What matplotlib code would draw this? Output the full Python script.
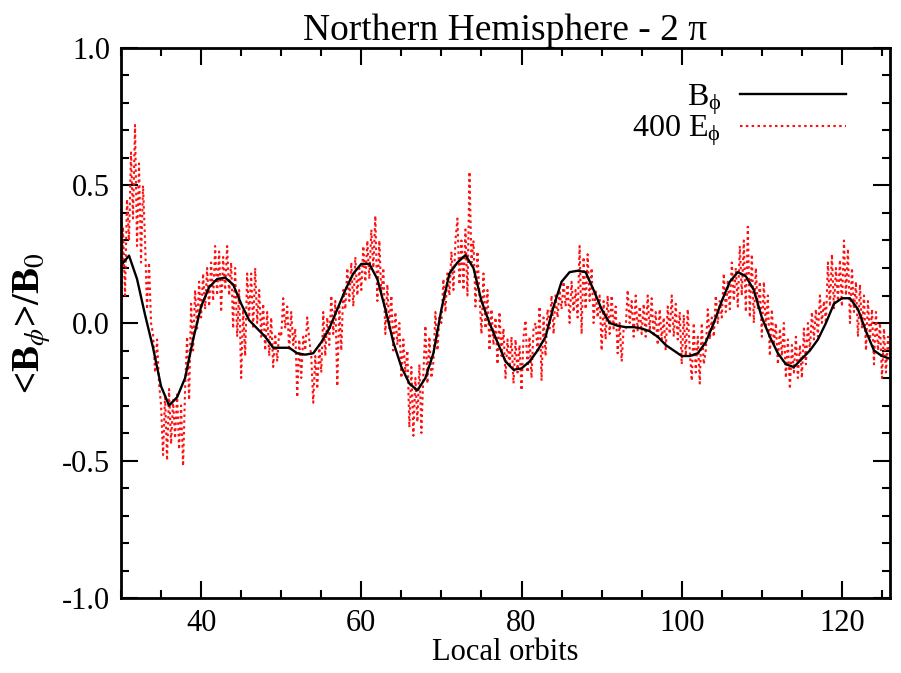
import numpy as np
import matplotlib
matplotlib.use("Agg")
import matplotlib.pyplot as plt
from matplotlib.ticker import MultipleLocator

plt.rcParams['font.family'] = ['Liberation Serif', 'DejaVu Serif']
plt.rcParams['mathtext.fontset'] = 'stix'

# Smoothed azimuthal field <B_phi>/B_0, one value per local orbit (30 .. 126)
orbits_b = np.arange(30, 127, 1)
b_phi = [
    0.21, 0.245, 0.16, 0.03, -0.09, -0.23, -0.30, -0.27, -0.20, -0.06,
    0.06, 0.13, 0.16, 0.165, 0.14, 0.07, 0.01, -0.02, -0.05, -0.09,
    -0.09, -0.09, -0.11, -0.115, -0.11, -0.07, -0.02, 0.05, 0.12, 0.18,
    0.215, 0.215, 0.16, 0.05, -0.07, -0.16, -0.22, -0.245, -0.20, -0.11,
    0.05, 0.18, 0.22, 0.247, 0.20, 0.08, 0.00, -0.07, -0.14, -0.17,
    -0.165, -0.14, -0.10, -0.05, 0.06, 0.15, 0.185, 0.19, 0.185, 0.12,
    0.05, 0.00, -0.01, -0.015, -0.015, -0.02, -0.03, -0.05, -0.08, -0.10,
    -0.12, -0.12, -0.11, -0.07, 0.00, 0.08, 0.15, 0.185, 0.17, 0.12,
    0.02, -0.05, -0.11, -0.15, -0.16, -0.13, -0.10, -0.06, 0.00, 0.07,
    0.09, 0.09, 0.05, -0.03, -0.10, -0.12, -0.13,
]

# Scaled electric field 400 E_phi, sampled every quarter orbit (30 .. 126)
e_phi_rows = [
    [0.02, 0.35, 0.10, 0.45], [0.30, 0.62, 0.38, 0.72], [0.28, 0.58, 0.22, 0.50],
    [0.30, 0.05, 0.22, 0.00], [-0.04, -0.18, -0.06, -0.22], [-0.30, -0.48, -0.26, -0.50],
    [-0.24, -0.44, -0.28, -0.42], [-0.26, -0.46, -0.30, -0.52], [-0.24, -0.05, -0.28, 0.07],
    [-0.10, 0.12, -0.02, 0.15], [0.02, 0.18, 0.05, 0.20], [0.06, 0.22, 0.08, 0.28],
    [0.10, 0.26, 0.04, 0.24], [0.12, 0.28, 0.10, 0.22], [-0.02, 0.20, -0.05, 0.12],
    [-0.20, 0.05, -0.12, 0.18], [0.02, 0.18, -0.02, 0.20], [0.00, 0.12, -0.05, 0.07],
    [-0.10, 0.04, -0.12, 0.02], [-0.16, -0.04, -0.14, -0.03], [-0.05, 0.09, -0.02, 0.06],
    [-0.10, 0.04, -0.08, -0.02], [-0.27, -0.06, -0.20, -0.05], [-0.10, 0.02, -0.06, -0.12],
    [-0.29, -0.12, -0.24, -0.08], [-0.18, 0.04, -0.12, 0.02], [-0.08, 0.10, -0.04, 0.08],
    [-0.23, 0.06, -0.10, 0.12], [0.05, 0.20, 0.08, 0.22], [0.06, 0.24, 0.10, 0.20],
    [0.12, 0.28, 0.15, 0.30], [0.16, 0.34, 0.20, 0.39], [0.08, 0.30, 0.10, 0.20],
    [-0.04, 0.14, -0.02, 0.10], [-0.10, 0.04, -0.08, 0.00], [-0.20, -0.06, -0.18, -0.10],
    [-0.38, -0.16, -0.41, -0.20], [-0.36, -0.15, -0.40, -0.18], [-0.01, -0.22, -0.05, -0.20],
    [-0.14, 0.04, -0.10, 0.02], [0.00, 0.16, 0.04, 0.18], [0.10, 0.26, 0.12, 0.30],
    [0.38, 0.14, 0.30, 0.12], [0.34, 0.10, 0.55, 0.22], [0.30, 0.06, 0.26, 0.10],
    [-0.04, 0.18, -0.02, 0.12], [-0.10, 0.05, -0.08, 0.02], [-0.15, 0.04, -0.12, -0.02],
    [-0.20, -0.06, -0.16, -0.05], [-0.22, -0.06, -0.18, -0.08], [-0.245, -0.05, 0.01, -0.18],
    [-0.05, -0.20, -0.02, 0.00], [-0.10, 0.06, -0.21, 0.02], [-0.12, 0.05, -0.02, 0.10],
    [-0.04, 0.10, 0.02, 0.12], [0.05, 0.15, 0.06, 0.14], [0.00, 0.15, 0.04, 0.12],
    [0.02, 0.28, -0.04, 0.24], [0.05, 0.25, 0.08, 0.20], [0.00, 0.12, 0.02, 0.10],
    [-0.10, 0.08, -0.06, 0.10], [-0.04, 0.10, -0.02, 0.06], [-0.11, 0.00, -0.14, -0.02],
    [-0.02, 0.12, 0.00, 0.08], [-0.05, 0.10, -0.03, 0.06], [-0.04, 0.07, -0.05, 0.10],
    [-0.03, 0.09, -0.05, 0.04], [-0.08, 0.05, -0.06, 0.02], [-0.10, 0.06, -0.04, 0.10],
    [-0.05, 0.07, -0.06, 0.04], [-0.15, 0.03, -0.12, 0.05], [-0.10, -0.21, 0.00, -0.18],
    [-0.05, -0.22, 0.00, -0.15], [-0.10, 0.05, -0.06, 0.02], [-0.05, 0.10, 0.00, 0.08],
    [0.02, 0.18, 0.04, 0.15], [0.05, 0.22, 0.08, 0.20], [0.06, 0.28, 0.10, 0.30],
    [0.04, 0.35, 0.02, 0.25], [0.00, 0.20, 0.05, 0.15], [-0.05, 0.15, -0.02, 0.10],
    [-0.12, 0.05, -0.08, 0.00], [-0.15, -0.02, -0.12, 0.00], [-0.20, -0.06, -0.24, -0.08],
    [-0.18, -0.05, -0.20, -0.08], [-0.20, -0.02, -0.15, 0.00], [-0.10, 0.04, -0.06, 0.05],
    [-0.05, 0.10, 0.00, 0.08], [0.00, 0.22, 0.06, 0.25], [0.05, 0.20, 0.08, 0.23],
    [0.06, 0.30, 0.10, 0.27], [0.00, 0.20, 0.04, 0.15], [-0.05, 0.14, -0.02, 0.10],
    [-0.10, 0.08, -0.06, 0.05], [-0.15, 0.04, -0.10, 0.00], [-0.20, -0.02, -0.18, -0.05],
]
e_phi_last = -0.12
e_phi = [v for row in e_phi_rows for v in row] + [e_phi_last]
orbits_e = 30 + 0.25 * np.arange(len(e_phi))

x_ticks = [40, 60, 80, 100, 120]
y_ticks = [-1.0, -0.5, 0.0, 0.5, 1.0]

fig = plt.figure(figsize=(9.01, 6.73), dpi=100)
ax = fig.add_axes([0.1343, 0.1114, 0.8535, 0.8173])

ax.plot(orbits_e, e_phi, color='#ff1010', linestyle=(0, (1.2, 1.6)), linewidth=1.5,
        label=r'400 $\mathregular{E_\phi}$', zorder=2)
ax.plot(orbits_b, b_phi, color='black', linewidth=1.7, solid_joinstyle='round',
        label=r'$\mathregular{B_\phi}$', zorder=3)

ax.set_xlim(30, 126)
ax.set_ylim(-1.0, 1.0)
ax.set_xticks(x_ticks)
ax.set_yticks(y_ticks)
ax.set_yticklabels([f'{v:.1f}' for v in y_ticks])
ax.xaxis.set_minor_locator(MultipleLocator(5))
ax.yaxis.set_minor_locator(MultipleLocator(0.1))
ax.tick_params(which='both', direction='in', top=True, right=True, width=1.5,
               labelsize=22, colors='black')
ax.tick_params(which='major', length=12, pad=8)
ax.tick_params(which='minor', length=6)
for sp in ax.spines.values():
    sp.set_linewidth(2)

ax.set_title('Northern Hemisphere - 2 π', fontsize=27, pad=6)
ax.set_xlabel('Local orbits', fontsize=22, labelpad=0)
ax.set_ylabel(r'<B$_\phi$>/B$_0$', fontsize=28, fontweight='bold', labelpad=6)

handles, labels = ax.get_legend_handles_labels()
ax.legend(handles[::-1], labels[::-1], loc='upper right', bbox_to_anchor=(0.98, 0.99),
          frameon=False, markerfirst=False, fontsize=23, handlelength=3.3,
          handletextpad=0.6, labelspacing=-0.1)

fig.savefig('out.png', dpi=100)
